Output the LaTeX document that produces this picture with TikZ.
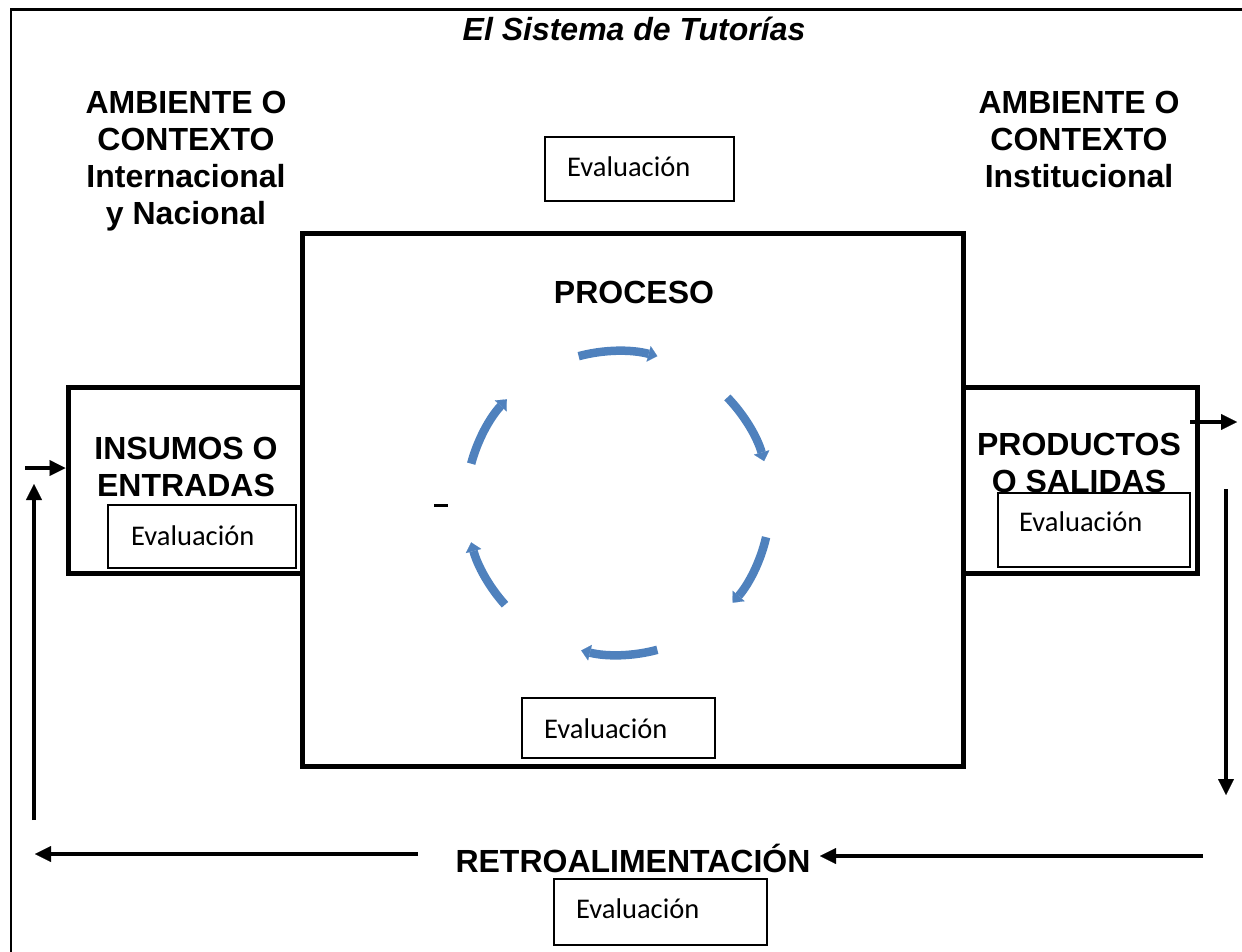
\documentclass[tikz,border=0pt]{standalone}
\usepackage{fontspec}
\setmainfont{Liberation Sans}
\newfontfamily\calfont{Carlito}
\usetikzlibrary{arrows.meta}
\definecolor{cycblue}{RGB}{79,129,189}
\begin{document}
\begin{tikzpicture}[x=1pt,y=1pt,
  bigbox/.style={draw,line width=5pt,inner sep=0pt},
  evalbox/.style={draw,line width=1.3pt,fill=white,inner sep=0pt},
  evaltext/.style={font=\calfont\fontsize{28.5}{34}\selectfont,anchor=west,inner sep=0pt},
  lbl/.style={font=\bfseries\fontsize{32}{37}\selectfont,align=center,inner sep=0pt},
  blk/.style={line width=3.5pt,-{Triangle[length=16pt,width=16pt,line width=0.1pt]}},
  cyc/.style={cycblue,line width=8.5pt,-{Triangle[length=9pt,width=16pt,line width=0.1pt]}}]
\useasboundingbox (0,0) rectangle (1242,-951);
% frame
\draw[line width=2.5pt] (1260,-9.5) -- (11,-9.5) -- (11,-970);
% title
\node[font=\bfseries\itshape\fontsize{32}{37}\selectfont,inner sep=0pt] (title) at (634,-29) {El Sistema de Tutorías};
% ambient labels
\node[lbl] (ambL) at (186,-161) {AMBIENTE O\\CONTEXTO\\Internacional\\y Nacional};
\node[lbl] (ambR) at (1079,-139) {AMBIENTE O\\CONTEXTO\\Institucional};
% boxes
\node[bigbox,minimum width=234,minimum height=186] (ins) at (185,-480) {};
\node[bigbox,minimum width=234,minimum height=186] (prod) at (1080,-480) {};
\node[bigbox,minimum width=661,minimum height=533] (proc) at (632.5,-499.5) {};
\node[lbl] (procT) at (634,-292) {PROCESO};
\node[lbl] (insT) at (186,-467) {INSUMOS O\\ENTRADAS};
\node[lbl] (prodT) at (1079,-463) {PRODUCTOS\\O SALIDAS};
\node[lbl] (retro) at (633,-858) {RETROALIMENTACIÓN};
% evaluation boxes
\node[evalbox,minimum width=189,minimum height=64] (e1) at (639.5,-169) {};
\node[evalbox,minimum width=188,minimum height=63] (e2) at (202,-536.5) {};
\node[evalbox,minimum width=192,minimum height=74] (e3) at (1094,-530) {};
\node[evalbox,minimum width=193,minimum height=60] (e4) at (618.5,-728) {};
\node[evalbox,minimum width=213,minimum height=66] (e5) at (660.5,-912) {};
\node[evaltext] (t1) at (567,-167) {Evaluación};
\node[evaltext] (t2) at (131,-536) {Evaluación};
\node[evaltext] (t3) at (1019,-522) {Evaluación};
\node[evaltext] (t4) at (544,-729) {Evaluación};
\node[evaltext] (t5) at (576,-909) {Evaluación};
% cycle arcs
\coordinate (c) at (618,-503);
\draw[cyc] (c) ++(105:152) arc[start angle=105,end angle=75,radius=152];
\draw[cyc] (c) ++(44:152) arc[start angle=44,end angle=16,radius=152];
\draw[cyc] (c) ++(-13:152) arc[start angle=-13,end angle=-41,radius=152];
\draw[cyc] (c) ++(-75:152) arc[start angle=-75,end angle=-104,radius=152];
\draw[cyc] (c) ++(-138:152) arc[start angle=-138,end angle=-165,radius=152];
\draw[cyc] (c) ++(165:152) arc[start angle=165,end angle=137,radius=152];
% small dash
\coordinate (d1) at (434,-505);
\coordinate (d2) at (448,-505);
\draw[line width=3pt] (d1) -- (d2);
% arrows
\coordinate (inA) at (25,-468);
\draw[blk] (inA) -- (ins.west |- inA);
\coordinate (upA) at (34,-820);
\coordinate (upB) at (34,-484);
\draw[blk] (upA) -- (upB);
\coordinate (blA) at (418,-854);
\coordinate (blB) at (35,-854);
\draw[blk] (blA) -- (blB);
\coordinate (brA) at (1203,-856);
\coordinate (brB) at (820,-856);
\draw[blk] (brA) -- (brB);
\coordinate (dnA) at (1226,-489);
\coordinate (dnB) at (1226,-795);
\draw[blk] (dnA) -- (dnB);
\coordinate (outA) at (1190,-422);
\coordinate (outB) at (1237,-422);
\draw[blk] (outA) -- (outB);
\end{tikzpicture}
\end{document}
